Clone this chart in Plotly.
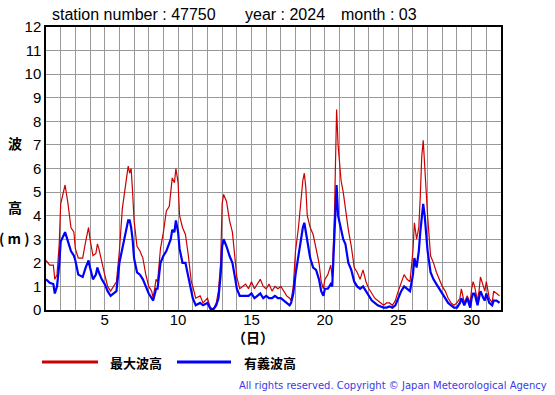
import plotly.graph_objects as go

# Time (day of month) at which each value was read
day_time = [
    1.0, 1.25, 1.5, 1.6, 1.75, 1.9,
    2.0, 2.2, 2.3, 2.5, 2.7, 2.9,
    3.0, 3.2, 3.5, 3.7, 3.9,
    4.0, 4.2, 4.4, 4.5, 4.6, 4.8,
    5.0, 5.2, 5.4, 5.6, 5.8,
    6.0, 6.2, 6.4, 6.5, 6.6, 6.7, 6.8, 6.9,
    7.0, 7.2, 7.4, 7.6, 7.8,
    8.0, 8.2, 8.3, 8.5, 8.6, 8.8,
    9.0, 9.2, 9.4, 9.5, 9.6, 9.75, 9.85,
    10.0, 10.1, 10.3, 10.5, 10.7, 10.9,
    11.0, 11.2, 11.5, 11.7,
    12.0, 12.2, 12.4, 12.6, 12.75, 12.9,
    13.0, 13.1, 13.3, 13.5, 13.7, 13.9,
    14.0, 14.2, 14.4, 14.6, 14.8,
    15.0, 15.2, 15.4, 15.6, 15.8,
    16.0, 16.2, 16.4, 16.6, 16.8,
    17.0, 17.2, 17.4, 17.6, 17.7, 17.85,
    18.0, 18.2, 18.35, 18.5, 18.6, 18.7, 18.8,
    19.0, 19.2, 19.4, 19.6, 19.75, 19.9,
    20.0, 20.2, 20.4, 20.5, 20.65, 20.75, 20.8, 20.9,
    21.0, 21.1, 21.25, 21.4, 21.6, 21.8,
    22.0, 22.2, 22.4, 22.6, 22.8,
    23.0, 23.2, 23.4, 23.6, 23.8,
    24.0, 24.2, 24.4, 24.6, 24.8,
    25.0, 25.2, 25.4, 25.6, 25.8,
    26.0, 26.1, 26.25, 26.4, 26.5, 26.6, 26.7, 26.8, 26.9,
    27.0, 27.2, 27.4, 27.6, 27.8,
    28.0, 28.2, 28.4, 28.6, 28.8,
    29.0, 29.2, 29.3, 29.5, 29.7, 29.9,
    30.0, 30.1, 30.2, 30.4, 30.5, 30.6, 30.8, 30.9,
    31.0, 31.2, 31.4, 31.5, 31.7, 31.9,
]

# 最大波高 (maximum wave height, m)
max_wave = [
    2.1, 1.9, 1.9, 1.3, 1.5, 2.8,
    4.5, 5.0, 5.3, 4.5, 3.5, 3.3,
    2.6, 2.2, 2.2, 2.9, 3.5,
    3.0, 2.3, 2.4, 2.8, 2.6, 2.0,
    1.5, 1.0, 0.8, 1.0, 1.2,
    2.5, 4.3, 5.2, 5.6, 6.1, 5.8, 6.0, 5.0,
    3.8, 2.7, 2.5, 2.2, 1.5,
    1.0, 0.8, 0.5, 1.3, 1.2, 2.6,
    3.3, 4.2, 4.4, 5.2, 5.6, 5.4, 6.0,
    5.4, 4.0, 3.5, 3.2, 2.3, 1.2,
    1.0, 0.5, 0.6, 0.3,
    0.5, 0.1, 0.05, 0.3, 0.8, 2.0,
    4.5, 4.9, 4.6, 3.8, 3.3, 2.0,
    1.4, 0.9, 1.0, 1.1, 0.9,
    1.2, 0.9, 1.1, 1.3, 1.0,
    0.9, 1.1, 0.8, 1.0, 0.9,
    1.0, 0.8, 0.6, 0.5, 0.4, 1.0,
    2.5, 3.5, 4.5, 5.5, 5.8, 5.2, 4.0,
    3.5, 3.2, 2.6, 2.0, 1.2, 0.9,
    1.3, 1.5, 1.9, 1.4, 4.0, 7.5, 8.5, 7.0,
    6.0, 5.5, 5.0, 4.3, 3.4, 2.7,
    1.8, 1.6, 1.3, 1.7, 1.2,
    0.9, 0.7, 0.5, 0.4, 0.3,
    0.2, 0.3, 0.3, 0.2, 0.4,
    0.8, 1.2, 1.5, 1.3, 1.2,
    2.5, 3.7, 3.0, 3.5, 4.8, 6.5, 7.2, 6.0, 5.0,
    4.0, 2.3, 2.0, 1.6, 1.3,
    1.0, 0.8, 0.5, 0.3, 0.2,
    0.3, 0.5, 0.9, 0.3, 0.6, 0.3,
    0.9, 1.2, 1.0, 0.4, 0.8, 1.4, 1.0, 0.8,
    1.2, 0.5, 0.3, 0.8, 0.7, 0.6,
]

# 有義波高 (significant wave height, m)
sig_wave = [
    1.3, 1.15, 1.1, 0.7, 1.0, 1.9,
    2.9, 3.2, 3.3, 2.9, 2.5, 2.3,
    2.1, 1.5, 1.4, 1.8, 2.1,
    1.8, 1.3, 1.5, 1.8, 1.6, 1.3,
    1.1, 0.8, 0.6, 0.7, 0.8,
    2.0, 2.6, 3.1, 3.4, 3.8, 3.8, 3.5, 3.0,
    2.2, 1.6, 1.5, 1.3, 1.0,
    0.7, 0.5, 0.4, 0.9, 0.9, 2.0,
    2.3, 2.5, 2.9, 3.0, 3.4, 3.3, 3.8,
    3.3, 2.6, 2.0, 2.0, 1.4, 0.7,
    0.5, 0.2, 0.3, 0.2,
    0.3, 0.05, 0.02, 0.2, 0.5, 1.5,
    2.7, 3.0, 2.7, 2.3, 2.0, 1.3,
    0.9, 0.6, 0.6, 0.6, 0.6,
    0.7, 0.5, 0.6, 0.7, 0.5,
    0.6, 0.5, 0.5, 0.6, 0.5,
    0.5, 0.4, 0.3, 0.2, 0.3, 0.7,
    1.5, 2.3, 3.0, 3.5, 3.7, 3.3, 3.0,
    2.2, 1.8, 1.7, 1.3, 0.8, 0.6,
    0.9, 0.9, 1.1, 1.0, 3.0, 4.8, 5.3, 4.0,
    3.7, 3.3, 3.0, 2.8, 2.0, 1.7,
    1.2, 1.0, 0.9, 1.0, 0.8,
    0.6, 0.4, 0.3, 0.2, 0.15,
    0.1, 0.1, 0.15, 0.1, 0.2,
    0.5, 0.8, 1.0, 0.9, 0.8,
    1.5, 2.2, 1.8, 2.5, 3.3, 4.0, 4.5, 4.0, 3.0,
    2.5, 1.6, 1.3, 1.1, 0.9,
    0.7, 0.5, 0.3, 0.2, 0.1,
    0.1, 0.3, 0.5, 0.2, 0.5, 0.1,
    0.5, 0.7, 0.7, 0.2, 0.5, 0.8, 0.5, 0.4,
    0.7, 0.3, 0.2, 0.4, 0.4, 0.3,
]

x_tick_vals = [5, 10, 15, 20, 25, 30]
y_tick_vals = list(range(0, 13))
series_names = ["最大波高", "有義波高"]
title_parts = ["station number : 47750", "year : 2024", "month : 03"]

assert len(day_time) == len(max_wave) == len(sig_wave)

RED = "#cc0000"
BLUE = "#0000ff"
GRID = "#999999"

fig = go.Figure()
fig.add_trace(go.Scatter(x=day_time, y=max_wave, mode="lines", name=series_names[0],
                         line=dict(color=RED, width=1.2), showlegend=False))
fig.add_trace(go.Scatter(x=day_time, y=sig_wave, mode="lines", name=series_names[1],
                         line=dict(color=BLUE, width=2.2), showlegend=False))

font_main = "Liberation Sans, Arial, sans-serif"
cjk = "Noto Sans CJK JP"

fig.update_layout(
    width=555, height=395,
    margin=dict(l=46, r=54, t=27, b=85),
    paper_bgcolor="white", plot_bgcolor="white",
    xaxis=dict(range=[1, 32], tickvals=x_tick_vals, showgrid=True, gridcolor=GRID, gridwidth=1,
               minor=dict(dtick=1, tick0=1, showgrid=True, gridcolor=GRID, gridwidth=1),
               showline=True, linecolor="black", linewidth=1.5, mirror=True,
               ticks="", ticklabelstandoff=-5,
               tickfont=dict(family=font_main, size=15, color="black"),
               zeroline=False, fixedrange=True),
    yaxis=dict(range=[0, 12], tickvals=y_tick_vals, showgrid=True, gridcolor=GRID, gridwidth=1,
               showline=True, linecolor="black", linewidth=1.5, mirror=True,
               ticks="", tickfont=dict(family=font_main, size=15, color="black"),
               zeroline=False, fixedrange=True),
)

annos = [
    dict(text=title_parts[0], x=50, y=15, size=16),
    dict(text=title_parts[1], x=243, y=15, size=16),
    dict(text=title_parts[2], x=339, y=15, size=16),
]
for a in annos:
    fig.add_annotation(text=a["text"], xref="paper", yref="paper",
                       x=(a["x"] - 46) / 455, y=(310 - a["y"]) / 283,
                       xanchor="left", yanchor="middle", showarrow=False,
                       font=dict(family=font_main, size=a["size"], color="black"))

# y-axis title characters
for txt, px, py in [("波", 15, 143), ("高", 15, 207), ("( m )", 14, 238)]:
    fig.add_annotation(text=f"<b>{txt}</b>", xref="paper", yref="paper",
                       x=(px - 46) / 455, y=(310 - py) / 283,
                       xanchor="center", yanchor="middle", showarrow=False,
                       font=dict(family=cjk, size=14, color="black"))

# x-axis title
fig.add_annotation(text="<b>（日）</b>", xref="paper", yref="paper",
                   x=(253 - 46) / 455, y=(310 - 337) / 283,
                   xanchor="center", yanchor="middle", showarrow=False,
                   font=dict(family=cjk, size=14, color="black"))

# legend
for (x0, x1, tx, color, name) in [(42, 98, 108, RED, series_names[0]),
                                  (177, 231, 242, BLUE, series_names[1])]:
    fig.add_shape(type="line", xref="paper", yref="paper",
                  x0=(x0 - 46) / 455, x1=(x1 - 46) / 455,
                  y0=(310 - 362) / 283, y1=(310 - 362) / 283,
                  line=dict(color=color, width=3))
    fig.add_annotation(text=f"<b>{name}</b>", xref="paper", yref="paper",
                       x=(tx - 46) / 455, y=(310 - 362) / 283,
                       xanchor="left", yanchor="middle", showarrow=False,
                       font=dict(family=cjk, size=13, color="black"))

fig.add_annotation(text="All rights reserved. Copyright © Japan Meteorological Agency",
                   xref="paper", yref="paper",
                   x=(549 - 46) / 455, y=(310 - 385) / 283,
                   xanchor="right", yanchor="middle", showarrow=False,
                   font=dict(family="DejaVu Sans", size=10, color="#3a3ae6"))

fig.write_html("out.html", config={"displayModeBar": False},
               post_script="document.body.style.margin='0';")
